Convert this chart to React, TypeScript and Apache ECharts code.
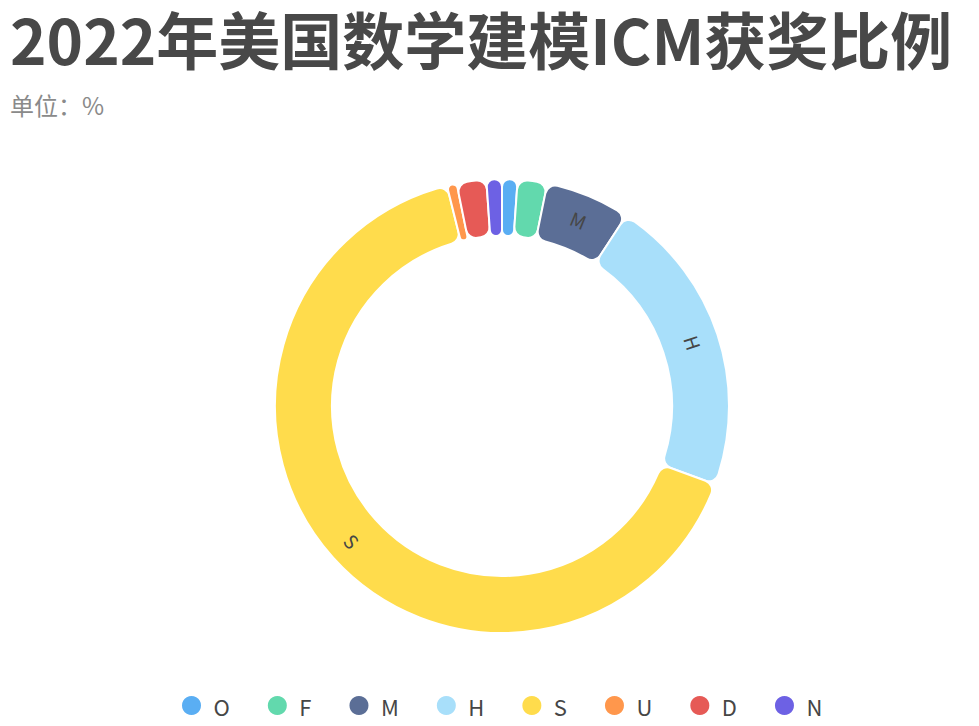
import React, { useEffect, useRef } from "react";
import * as echarts from "echarts";

const categories = ["O", "F", "M", "H", "S", "U", "D", "N"];
const values = [1.1, 2.1, 6.0, 21.4, 65.5, 0.7, 2.1, 1.1];
const colors = ["#5AAEF3", "#62D9AD", "#5B6E96", "#A8DFFA", "#FFDC4C", "#FF974C", "#E65A56", "#6D61E4"];
const titleText = "2022年美国数学建模ICM获奖比例";
const unitText = "单位：%";

export default function App() {
  const ref = useRef<HTMLDivElement>(null);
  useEffect(() => {
    if (!ref.current) return;
    const chart = echarts.init(ref.current, null, { renderer: "svg" });
    const font = "'Noto Sans CJK SC', 'Noto Sans', sans-serif";
    chart.setOption({
      animation: false,
      color: colors,
      textStyle: { fontFamily: font },
      title: [
        {
          text: titleText,
          left: 5,
          top: 2,
          textStyle: { fontSize: 62, fontWeight: "bold", color: "#484848", fontFamily: font },
        },
        {
          text: unitText,
          left: 5,
          top: 87,
          textStyle: { fontSize: 24, fontWeight: "normal", color: "#8a8a8a", fontFamily: font },
        },
      ],
      legend: {
        data: categories,
        left: 175,
        top: 689,
        icon: "circle",
        itemWidth: 34,
        itemHeight: 21,
        itemGap: 36,
        textStyle: { fontSize: 22, color: "#464646", fontFamily: font },
      },
      series: [
        {
          type: "pie",
          center: [502, 406],
          radius: [170, 227],
          startAngle: 90,
          clockwise: true,
          minShowLabelAngle: 12,
          itemStyle: { borderRadius: 10, borderColor: "#fff", borderWidth: 2 },
          label: {
            show: true,
            position: "inside",
            rotate: "tangential",
            formatter: "{b}",
            color: "#464646",
            fontSize: 19,
            fontFamily: font,
          },
          labelLine: { show: false },
          data: categories.map((c, i) => ({ name: c, value: values[i] })),
        },
      ],
    });
    return () => chart.dispose();
  }, []);
  return (
    <div
      ref={ref}
      style={{ position: "fixed", left: 0, top: 0, width: 979, height: 726, background: "#fff" }}
    />
  );
}
